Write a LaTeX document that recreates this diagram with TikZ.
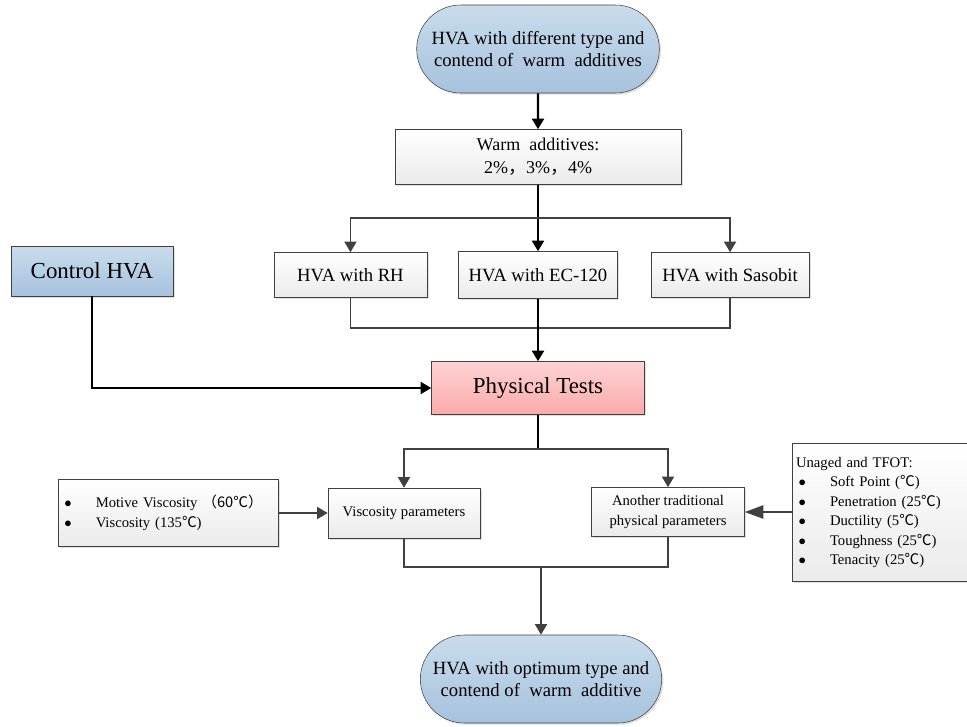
\documentclass[tikz,border=0pt]{standalone}
\usepackage{fontspec}
\setmainfont{Liberation Serif}
\newfontfamily\cjk{Noto Sans CJK SC}
\usepackage{xcolor}
\usetikzlibrary{shapes,arrows.meta,positioning,shadows}
\definecolor{lineg}{HTML}{404040}
\definecolor{bluetop}{HTML}{C9DCEC}
\definecolor{bluebot}{HTML}{A6C2DD}
\definecolor{pinktop}{HTML}{FFD3D3}
\definecolor{pinkbot}{HTML}{FAAAAA}
\newcommand{\tC}{{\cjk ℃}}

\begin{document}
\begin{tikzpicture}[x=0.75pt,y=-0.75pt]
    \tikzstyle{shade} = [drop shadow={opacity=0.25, shadow xshift=1.3pt, shadow yshift=-1.3pt}]
    \tikzstyle{term} = [rounded rectangle, draw=lineg, shade, top color=bluetop, bottom color=bluebot, minimum width=182pt, minimum height=66pt, inner sep=0pt, align=center, font=\fontsize{14}{16}\selectfont]
    \tikzstyle{box} = [rectangle, draw=lineg, shade, top color=white, bottom color=black!8, inner sep=0pt, align=center]
    \tikzstyle{small} = [box, font=\fontsize{11}{14.6}\selectfont]
    \tikzstyle{link} = [line width=1.4pt, lineg]
    \tikzstyle{arrow} = [link, -{Triangle[width=9pt,length=8pt]}]
    \tikzstyle{bold} = [line width=1.7pt, black, -{Triangle[width=9pt,length=8pt]}]

    \clip (0,0) rectangle (967,726);

    \node [term] (top) at (538,49) {HVA with different type and\\contend of~ warm~ additives};
    \node [box, minimum width=214.5pt, minimum height=41.25pt, font=\fontsize{13.5}{17}\selectfont] (warm) at (538,157) {Warm~ additives:\\2\%{\cjk ，}3\%{\cjk ，}4\%};

    \node [box, minimum width=119.25pt, minimum height=35.25pt, font=\fontsize{14}{16}\selectfont] (ec) at (538,275) {HVA with EC-120};
    \node [box, minimum width=114.75pt, minimum height=33.75pt, font=\fontsize{14}{16}\selectfont, left=23.25pt of ec] (rh) {HVA with RH};
    \node [box, minimum width=118.5pt, minimum height=33.75pt, font=\fontsize{14}{16}\selectfont, right=24.75pt of ec] (sas) {HVA with Sasobit};

    \node [box, top color=bluetop, bottom color=bluebot, minimum width=121.5pt, minimum height=37.5pt, font=\fontsize{17.2}{19}\selectfont] (ctrl) at (92,271) {Control HVA};
    \node [box, top color=pinktop, bottom color=pinkbot, minimum width=159.75pt, minimum height=39.75pt, font=\fontsize{17.2}{19}\selectfont] (phys) at (538,388) {Physical Tests};

    \node [small, minimum width=114pt, minimum height=37.5pt] (visc) at (404,513) {Viscosity parameters};
    \node [small, minimum width=114.75pt, minimum height=36.75pt] (trad) at (668,512) {Another traditional\\physical parameters};
    \node [small, minimum width=165pt, minimum height=50.25pt, text width=156pt, align=left, font=\fontsize{11}{15}\selectfont, left=36.75pt of visc] (motive) {%
        \begin{tabular}{@{}l@{\hspace{18pt}}l@{}}
        $\bullet$ & Motive Viscosity {\cjk（60℃）}\\
        $\bullet$ & Viscosity (135\tC)
        \end{tabular}};
    \node [small, minimum height=103.5pt, text width=170pt, inner xsep=3pt, align=left, right=35.25pt of trad] (unaged) {%
        \begin{tabular}{@{}l@{\hspace{18pt}}l@{}}
        \multicolumn{2}{@{}l}{Unaged and TFOT:}\\
        \hspace{2pt}$\bullet$ & Soft Point (\tC)\\
        \hspace{2pt}$\bullet$ & Penetration (25\tC)\\
        \hspace{2pt}$\bullet$ & Ductility (5\tC)\\
        \hspace{2pt}$\bullet$ & Toughness (25\tC)\\
        \hspace{2pt}$\bullet$ & Tenacity (25\tC)
        \end{tabular}};

    \node [term, minimum width=181pt] (bot) at (541,679) {HVA with optimum type and\\contend of~ warm~ additive};

    \coordinate (split1) at (538,218);
    \coordinate (merge1) at (538,328);
    \coordinate (split2) at (538,449);
    \coordinate (merge2) at (541,567);

    \draw [bold] (top) -- (warm);
    \draw [bold] (warm) -- (ec);
    \draw [arrow] (split1) -| (rh);
    \draw [arrow] (split1) -| (sas);
    \draw [link] (rh) |- (merge1) -| (sas);
    \draw [bold] (ec) -- (phys);
    \draw [bold] (ctrl) |- (phys);

    \draw [link, black] (phys) -- (split2);
    \draw [arrow] (split2) -| (visc);
    \draw [arrow] (split2) -| (trad);
    \draw [arrow] (motive) -- (visc);
    \draw [link, -{Triangle[width=10pt,length=14pt]}] (unaged) -- (trad);
    \draw [link] (visc) |- (merge2) -| (trad);
    \draw [arrow] (merge2) -- (bot);
\end{tikzpicture}
\end{document}
